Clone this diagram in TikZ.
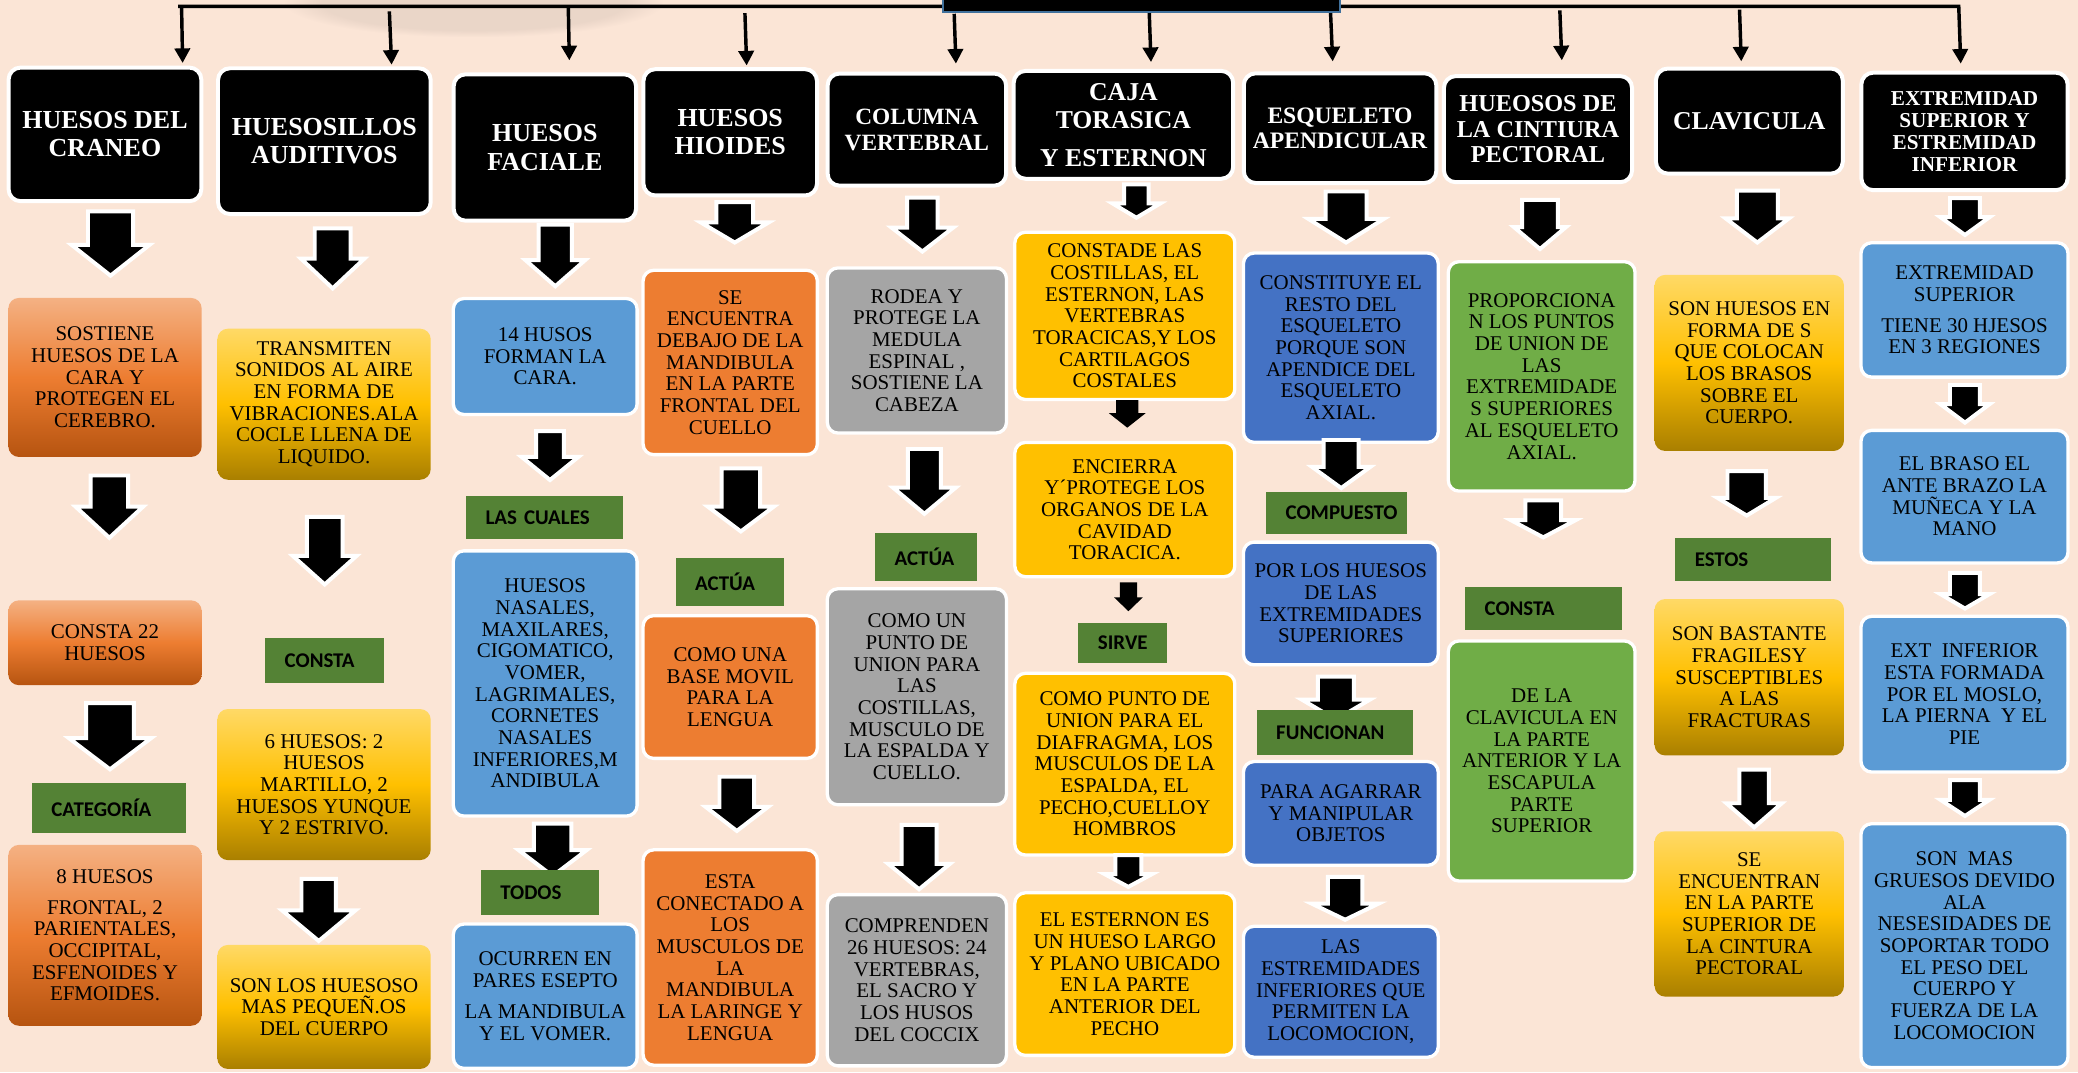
\documentclass[tikz,border=0pt]{standalone}
\usepackage{fontspec}
\setmainfont{Liberation Serif}
\newfontfamily\lblfont{Carlito}
\usetikzlibrary{arrows.meta,fadings}
\definecolor{bgc}{HTML}{FBE5D6}
\definecolor{orT}{HTML}{F4B183}
\definecolor{orM}{HTML}{ED7D31}
\definecolor{orB}{HTML}{B65410}
\definecolor{yeT}{HTML}{FFD966}
\definecolor{yeM}{HTML}{FFC000}
\definecolor{yeB}{HTML}{A97F00}
\definecolor{blueA}{HTML}{5B9BD5}
\definecolor{blueB}{HTML}{4472C4}
\definecolor{grayA}{HTML}{A5A5A5}
\definecolor{orS}{HTML}{ED7D31}
\definecolor{yeS}{HTML}{FFC000}
\definecolor{grS}{HTML}{70AD47}
\definecolor{lblgreen}{HTML}{548235}
\definecolor{rectblue}{HTML}{41719C}
\tikzset{
  bodyfont/.style={font=\fontsize{15.8}{16.35}\selectfont},
  hdr/.style={fill=black, draw=white, line width=3pt, rounded corners=9pt, text=white, align=center, inner sep=2pt, font=\bfseries\fontsize{19.6}{21.3}\selectfont},
  solidbox/.style={draw=white, line width=2.5pt, rounded corners=8pt, align=center, inner sep=2pt, bodyfont},
  bluebox/.style={solidbox, fill=blueA},
  darkbluebox/.style={solidbox, fill=blueB},
  graybox/.style={solidbox, fill=grayA},
  orangebox/.style={solidbox, fill=orS},
  yellowbox/.style={solidbox, fill=yeS},
  greenbox/.style={solidbox, fill=grS},
  orgrad/.style={rounded corners=8pt, align=center, inner sep=2pt, top color=orT, bottom color=orB, middle color=orM, bodyfont},
  yegrad/.style={rounded corners=8pt, align=center, inner sep=2pt, top color=yeT, bottom color=yeB, middle color=yeM, bodyfont},
  greenlbl/.style={fill=lblgreen, inner xsep=14.8pt, inner ysep=0pt, align=left, font=\lblfont\bfseries\fontsize{15.8}{17}\selectfont},
  toparrow/.style={line width=2.6pt, line join=miter, -{Triangle[width=11.5pt,length=11pt]}},
  barrowsty/.style={fill=black, draw=white, line width=3pt, line join=miter},
}
% box: [inset]{style}{name}{x1}{y1}{x2}{y2}{text}
\newcommand{\bx}[8][2.5]{%
  \pgfmathsetmacro\bxcx{(#4+#6)/2}%
  \pgfmathsetmacro\bxcy{(#5+#7)/2}%
  \pgfmathsetmacro\bxw{#6-#4-#1}%
  \pgfmathsetmacro\bxh{#7-#5-#1}%
  \node[#2, minimum width=\bxw pt, minimum height=\bxh pt] (#3) at (\bxcx,\bxcy) {#8};}
% green label: {name}{x1}{y1}{x2}{y2}{text}
\newcommand{\gl}[6]{%
  \pgfmathsetmacro\bxcx{(#2+#4)/2}%
  \pgfmathsetmacro\bxcy{(#3+#5)/2}%
  \pgfmathsetmacro\bxtw{#4-#2-29.6}%
  \pgfmathsetmacro\bxh{#5-#3}%
  \node[greenlbl, text width=\bxtw pt, minimum height=\bxh pt] (#1) at (\bxcx,\bxcy) {#6};}
% block arrow: {cx}{top}{base}{tip}{shaft half}{head half}
\newcommand{\barr}[6]{%
  \draw[barrowsty] (#1-#5+1.5,#2+1.5) -- (#1+#5-1.5,#2+1.5) -- (#1+#5-1.5,#3+1.5) -- (#1+#6-2,#3+1.5) -- (#1,#4-2) -- (#1-#6+2,#3+1.5) -- (#1-#5+1.5,#3+1.5) -- cycle;}
\newcommand{\barrn}[6]{%
  \fill[black] (#1-#5,#2) -- (#1+#5,#2) -- (#1+#5,#3) -- (#1+#6,#3) -- (#1,#4) -- (#1-#6,#3) -- (#1-#5,#3) -- cycle;}
\begin{document}
\begin{tikzpicture}[x=1pt,y=-1pt]
\useasboundingbox (0,0) rectangle (1568,809);
\fill[bgc] (0,0) rectangle (1568,809);
% faint smudge near the top
\fill[black!40!bgc, opacity=0.16, path fading=circle with fuzzy edge 20 percent] (215,-24) rectangle (500,28);

% ---------- headers ----------
\bx[3]{hdr}{H1}{5}{49.5}{153.4}{153.3}{HUESOS DEL\\CRANEO}
\bx[3]{hdr}{H2}{163}{50}{326.5}{163}{HUESOSILLOS\\AUDITIVOS}
\bx[3]{hdr}{H3}{340.8}{54.6}{481.5}{168}{HUESOS\\FACIALE}
\bx[3]{hdr}{H4}{484}{50.7}{618}{149}{HUESOS\\HIOIDES}
\bx[3]{hdr, font=\bfseries\fontsize{17.6}{19.5}\selectfont}{H5}{623}{54}{760.7}{141.6}{COLUMNA\\VERTEBRAL}
\bx[3]{hdr, font=\bfseries\fontsize{19.4}{21.3}\selectfont}{H6}{763.4}{52}{932}{136.4}{CAJA\\TORASICA\\[7.5pt]Y ESTERNON}
\bx[3]{hdr, font=\bfseries\fontsize{17.8}{19}\selectfont}{H7}{937}{53.8}{1085.3}{139.6}{ESQUELETO\\APENDICULAR}
\bx[3]{hdr, font=\bfseries\fontsize{18.3}{19}\selectfont}{H8}{1088}{55.9}{1233}{139}{HUEOSOS DE\\LA CINTIURA\\PECTORAL}
\bx[3]{hdr, font=\bfseries\fontsize{19.4}{21.3}\selectfont}{H9}{1248}{50.2}{1392}{132.5}{CLAVICULA}
\bx[3]{hdr, font=\bfseries\fontsize{16}{16.7}\selectfont}{H10}{1403}{53.3}{1561.7}{145}{EXTREMIDAD\\SUPERIOR Y\\ESTREMIDAD\\INFERIOR}

% ---------- column 1 ----------
\bx[0]{orgrad}{B1a}{6.3}{224.8}{152.2}{344.8}{SOSTIENE\\HUESOS DE LA\\CARA Y\\PROTEGEN EL\\CEREBRO.}
\bx[0]{orgrad}{B1b}{6.3}{453}{152.2}{517}{CONSTA 22\\HUESOS}
\bx[0]{orgrad}{B1c}{6.3}{637.5}{152.2}{774}{8 HUESOS\\[7pt]FRONTAL, 2\\PARIENTALES,\\OCCIPITAL,\\ESFENOIDES Y\\EFMOIDES.}
% ---------- column 2 ----------
\bx[0]{yegrad}{B2a}{164}{248}{325}{362}{TRANSMITEN\\SONIDOS AL AIRE\\EN FORMA DE\\VIBRACIONES.ALA\\COCLE LLENA DE\\LIQUIDO.}
\bx[0]{yegrad}{B2b}{164}{535}{325}{649}{6 HUESOS: 2\\HUESOS\\MARTILLO, 2\\HUESOS YUNQUE\\Y 2 ESTRIVO.}
\bx[0]{yegrad}{B2c}{164}{713}{325}{806.6}{SON LOS HUESOSO\\MAS PEQUEÑ.OS\\DEL CUERPO}
% ---------- column 3 ----------
\bx{bluebox}{B3a}{340.8}{224}{482}{314}{14 HUSOS\\FORMAN LA\\CARA.}
\bx{bluebox}{B3b}{340.8}{414.4}{482}{617}{HUESOS\\NASALES,\\MAXILARES,\\CIGOMATICO,\\VOMER,\\LAGRIMALES,\\CORNETES\\NASALES\\INFERIORES,M\\ANDIBULA}
\bx{bluebox}{B3c}{340.8}{696}{482}{807.4}{OCURREN EN\\PARES ESEPTO\\[7.5pt]LA MANDIBULA\\Y EL VOMER.}
% ---------- column 4 ----------
\bx{orangebox}{B4a}{484}{202.7}{618}{344.3}{SE\\ENCUENTRA\\DEBAJO DE LA\\MANDIBULA\\EN LA PARTE\\FRONTAL DEL\\CUELLO}
\bx{orangebox}{B4b}{484}{463.3}{618}{573.5}{COMO UNA\\BASE MOVIL\\PARA LA\\LENGUA}
\bx{orangebox}{B4c}{484}{640}{618}{805}{ESTA\\CONECTADO A\\LOS\\MUSCULOS DE\\LA\\MANDIBULA\\LA LARINGE Y\\LENGUA}
% ---------- column 5 ----------
\bx{graybox}{B5a}{623}{200.9}{760.7}{328}{RODEA Y\\PROTEGE LA\\MEDULA\\ESPINAL ,\\SOSTIENE LA\\CABEZA}
\bx{graybox}{B5b}{623}{443}{760.7}{608.5}{COMO UN\\PUNTO DE\\UNION PARA\\LAS\\COSTILLAS,\\MUSCULO DE\\LA ESPALDA Y\\CUELLO.}
\bx{graybox}{B5c}{623}{673.8}{760.7}{805.5}{COMPRENDEN\\26 HUESOS: 24\\VERTEBRAS,\\EL SACRO Y\\LOS HUSOS\\DEL COCCIX}
% ---------- column 6 ----------
\bx{yellowbox}{B6a}{764.5}{174}{933}{302.7}{CONSTADE LAS\\COSTILLAS, EL\\ESTERNON, LAS\\VERTEBRAS\\TORACICAS,Y LOS\\CARTILAGOS\\COSTALES}
\bx{yellowbox}{B6b}{764.5}{332.6}{933}{436.4}{ENCIERRA\\Y´PROTEGE LOS\\ORGANOS DE LA\\CAVIDAD\\TORACICA.}
\bx{yellowbox}{B6c}{764.5}{506.8}{933}{646.4}{COMO PUNTO DE\\UNION PARA EL\\DIAFRAGMA, LOS\\MUSCULOS DE LA\\ESPALDA, EL\\PECHO,CUELLOY\\HOMBROS}
\bx{yellowbox}{B6d}{764.5}{672.4}{933}{797.6}{EL ESTERNON ES\\UN HUESO LARGO\\Y PLANO UBICADO\\EN LA PARTE\\ANTERIOR DEL\\PECHO}
% ---------- column 7 ----------
\bx{darkbluebox}{B7a}{937}{189.7}{1086.5}{335}{CONSTITUYE EL\\RESTO DEL\\ESQUELETO\\PORQUE SON\\APENDICE DEL\\ESQUELETO\\AXIAL.}
\bx{darkbluebox}{B7b}{937}{407.8}{1086.5}{502.9}{POR LOS HUESOS\\DE LAS\\EXTREMIDADES\\SUPERIORES}
\bx{darkbluebox}{B7c}{937}{573.4}{1086.5}{654.2}{PARA AGARRAR\\Y MANIPULAR\\OBJETOS}
\bx{darkbluebox}{B7d}{937}{697.7}{1086.5}{799}{LAS\\ESTREMIDADES\\INFERIORES QUE\\PERMITEN LA\\LOCOMOCION,}
% ---------- column 8 ----------
\bx{greenbox}{B8a}{1091.6}{196.2}{1235}{371.8}{PROPORCIONA\\N LOS PUNTOS\\DE UNION DE\\LAS\\EXTREMIDADE\\S SUPERIORES\\AL ESQUELETO\\AXIAL.}
\bx{greenbox}{B8b}{1091.6}{482.4}{1235}{666}{DE LA\\CLAVICULA EN\\LA PARTE\\ANTERIOR Y LA\\ESCAPULA\\PARTE\\SUPERIOR}
% ---------- column 9 ----------
\bx[0]{yegrad}{B9a}{1248.5}{207.4}{1391.4}{340.3}{SON HUESOS EN\\FORMA DE S\\QUE COLOCAN\\LOS BRASOS\\SOBRE EL\\CUERPO.}
\bx[0]{yegrad}{B9b}{1248.5}{452}{1391.4}{570}{SON BASTANTE\\FRAGILESY\\SUSCEPTIBLES\\A LAS\\FRACTURAS}
\bx[0]{yegrad}{B9c}{1248.5}{627.3}{1391.4}{752}{SE\\ENCUENTRAN\\EN LA PARTE\\SUPERIOR DE\\LA CINTURA\\PECTORAL}
% ---------- column 10 ----------
\bx{bluebox}{B10a}{1403}{181.9}{1561.7}{285.8}{EXTREMIDAD\\SUPERIOR\\[7pt]TIENE 30 HJESOS\\EN 3 REGIONES}
\bx{bluebox}{B10b}{1403}{323.5}{1561.7}{426}{EL BRASO EL\\ANTE BRAZO LA\\MUÑECA Y LA\\MANO}
\bx{bluebox}{B10c}{1403}{463.8}{1561.7}{583.8}{EXT~~INFERIOR\\ESTA FORMADA\\POR EL MOSLO,\\LA PIERNA~~Y EL\\PIE}
\bx{bluebox}{B10d}{1403}{620.3}{1561.7}{806.8}{SON~~MAS\\GRUESOS DEVIDO\\ALA\\NESESIDADES DE\\SOPORTAR TODO\\EL PESO DEL\\CUERPO Y\\FUERZA DE LA\\LOCOMOCION}

% ---------- block arrows ----------
\barr{83.4}{158}{183.2}{210}{18.5}{31.5}
\barr{82.5}{357.3}{380.7}{407.8}{15.7}{27.6}
\barr{83}{529}{555.5}{582.5}{19.5}{33}
\barr{251}{170.8}{193.6}{219.6}{15}{26}
\barr{245}{388.5}{418}{443}{15}{26}
\barr{240.5}{661.6}{685.5}{712}{14.5}{29.6}
\barr{419}{168}{194.8}{218}{14}{24.5}
\barr{415}{323.8}{343.3}{364.2}{12}{23.4}
\barr{417}{620}{640}{663}{15.7}{27.6}
\barr{554.4}{151}{166.3}{185}{15.4}{27.7}
\barr{559}{352}{380.7}{403}{16}{27}
\barr{556}{584.6}{607.3}{629}{14.6}{25.6}
\barr{696}{147.6}{170.2}{191.8}{13}{25.3}
\barr{697.5}{337.3}{366.4}{389.7}{14}{25.7}
\barr{693.5}{621}{650.4}{673}{14.7}{25.2}
\barr{857.5}{137.7}{152}{166.3}{10.7}{20}
\barrn{850.6}{302}{311.8}{322.7}{8.4}{13.8}
\barrn{851.5}{439.5}{450.8}{461.2}{6.5}{10.8}
\barr{851.4}{643.8}{658}{671.2}{11.3}{20}
\barr{1015.7}{143}{163.7}{185}{17}{30.4}
\barr{1012}{330.5}{350.8}{370.3}{14.7}{24}
\barr{1008}{509}{526.4}{545}{15}{27.7}
\barr{1015}{660.2}{680.3}{696}{14.5}{27.3}
\barr{1162}{149.4}{169.8}{189.9}{15}{21.7}
\barr{1164.5}{376}{391}{407.5}{15}{26.4}
\barr{1326}{142.4}{163.2}{185}{17}{26}
\barr{1318}{354}{374.2}{391}{16}{24}
\barr{1323.6}{579.3}{604.6}{626.3}{12.6}{22.9}
\barr{1482.7}{148}{162.4}{179.3}{12.8}{20.5}
\barr{1482.7}{289}{303.5}{320.9}{12.8}{20.5}
\barr{1482.7}{430.7}{446.8}{461.2}{12.8}{20.5}
\barr{1482.7}{587.2}{602}{617.7}{12.8}{20.5}

% ---------- green labels ----------
\gl{G1}{24}{591}{140.4}{628.5}{CATEGORÍA}
\gl{G2}{200}{481.5}{290}{515}{CONSTA}
\gl{G3}{351.6}{374.3}{469.8}{406.4}{LAS CUALES}
\gl{G3b}{362.7}{656.5}{452}{690.4}{TODOS}
\gl{G4}{509.8}{421.3}{591.8}{457.3}{ACTÚA}
\gl{G5}{660.2}{402}{737}{438.5}{ACTÚA}
\gl{G6}{813.7}{470.3}{880.8}{500.3}{SIRVE}
\gl{G7}{955.3}{371}{1061.4}{402.6}{COMPUESTO}
\gl{G7b}{948.2}{535.5}{1066}{569.5}{FUNCIONAN}
\gl{G8}{1105.4}{442.7}{1224}{475.4}{CONSTA}
\gl{G9}{1264}{405.6}{1381.3}{438.5}{ESTOS}

% ---------- top connector ----------
\coordinate (L0) at (134.5,4.8);
\coordinate (L1) at (1478,4.8);
\coordinate (t1s) at (137,4.8);   \coordinate (t1e) at (137.8,47.5);
\coordinate (t2s) at (293.8,8.6); \coordinate (t2e) at (295.5,48.8);
\coordinate (t3s) at (428.8,4.8); \coordinate (t3e) at (429.6,45.5);
\coordinate (t4s) at (562.1,9.9); \coordinate (t4e) at (563.4,49.4);
\coordinate (t5s) at (720,10.4);  \coordinate (t5e) at (721.3,48);
\coordinate (t6s) at (867.2,9.9); \coordinate (t6e) at (868.5,46.8);
\coordinate (t7s) at (1004,9.9);  \coordinate (t7e) at (1005.6,46.3);
\coordinate (t8s) at (1177,7.8);  \coordinate (t8e) at (1178.5,45.5);
\coordinate (t9s) at (1312.6,7.3);\coordinate (t9e) at (1313.9,46.3);
\coordinate (t10e) at (1479.5,48);
\draw[toparrow] (L0) -- (L1) -- (t10e);
\foreach \i in {1,...,9} {\draw[toparrow] (t\i s) -- (t\i e);}
% central black bar at the top
\node[fill=black, draw=rectblue, line width=1.5pt, minimum width=299.5pt, minimum height=14pt, inner sep=0pt] (topbar) at (861.25,2) {};
\end{tikzpicture}
\end{document}
